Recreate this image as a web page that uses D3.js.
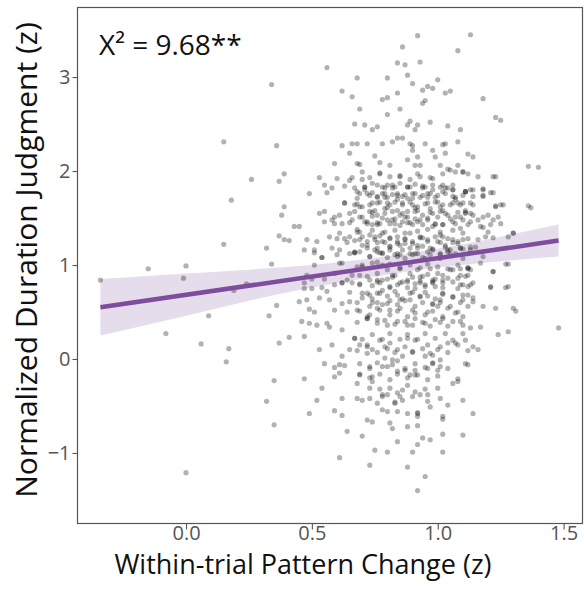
<!DOCTYPE html>
<html>
<head>
<meta charset="utf-8">
<script src="https://cdn.jsdelivr.net/npm/d3@7"></script>
<style>
  body { margin: 0; background: #fff; }
  svg text { font-family: "Open Sans", sans-serif; }
</style>
</head>
<body>
<div id="chart"></div>
<script>
// trial points [pattern change z, duration judgment z]
const points = [
  // upper cloud
  [0.92,3.44],[1.13,3.45],[0.86,3.32],[1.08,3.28],[0.56,3.10],[0.84,3.15],[0.87,3.13],[0.93,3.16],[0.88,3.02],
  [0.68,2.99],[0.80,2.99],[1.00,2.97],[0.62,2.85],[0.66,2.79],[0.78,2.76],[0.80,2.78],[0.84,2.83],[0.90,2.93],
  [0.94,2.86],[0.96,2.90],[0.98,2.88],[1.03,2.83],[1.05,2.85],[0.95,2.75],[0.94,2.72],[1.18,2.77],[0.69,2.66],
  [0.85,2.66],[0.80,2.60],[1.23,2.57],[1.25,2.54],[0.67,2.50],[0.71,2.49],[0.74,2.44],[0.76,2.47],[0.89,2.53],
  [0.88,2.49],[0.92,2.49],[0.91,2.44],[0.97,2.52],[1.04,2.48],[1.09,2.44],[0.84,2.35],[0.86,2.35],[0.82,2.31],
  [0.62,2.27],[0.66,2.29],[0.68,2.29],[0.72,2.29],[0.78,2.29],[0.89,2.29],[0.90,2.27],[0.95,2.29],[1.02,2.28],
  [1.03,2.29],[1.08,2.31],[0.65,2.19],[0.75,2.16],[0.90,2.22],[0.92,2.15],[0.98,2.22],[0.99,2.15],[1.03,2.19],
  [1.12,2.18],[1.14,2.15],[0.59,2.08],[0.68,2.08],[0.69,2.07],[0.77,2.09],[0.81,2.06],[0.88,2.12],[0.91,2.06],
  [0.93,2.06],[1.01,2.06],[1.08,2.06],[1.04,2.02],[1.10,1.99],[1.36,2.05],[1.40,2.04],
  [0.53,1.93],[0.60,1.92],[0.66,1.93],[0.70,1.91],[0.73,1.93],[0.77,1.97],[0.81,1.94],[0.85,1.95],[0.89,1.91],
  [0.93,1.94],[0.98,1.92],[1.02,1.97],[1.05,2.01],[1.12,1.97],[1.16,1.94],[1.23,1.94],[0.55,1.85],[0.58,1.82],
  [0.63,1.84],[0.67,1.82],[0.71,1.83],[0.74,1.87],[0.78,1.83],[0.80,1.85],[0.82,1.82],[0.85,1.87],[0.88,1.83],
  [0.91,1.86],[0.95,1.83],[0.98,1.85],[1.01,1.83],[1.04,1.82],[1.06,1.85],[1.11,1.78],[1.14,1.80],[1.18,1.80],
  [1.22,1.77],[0.49,1.76],[0.56,1.77],[0.69,1.76],[0.72,1.76],[0.76,1.73],[0.79,1.76],[0.84,1.76],[0.86,1.73],
  [0.90,1.76],[0.94,1.74],[0.97,1.76],[1.00,1.74],[1.03,1.76],[1.06,1.73],[1.10,1.74],[1.14,1.73],[1.18,1.74],
  [0.63,1.66],[0.67,1.64],[0.70,1.62],[0.74,1.66],[0.77,1.67],[0.80,1.66],[0.83,1.67],[0.86,1.64],[0.89,1.67],
  [0.92,1.62],[0.96,1.66],[0.99,1.67],[1.02,1.64],[1.06,1.66],[1.09,1.64],[1.13,1.66],[1.23,1.63],[1.25,1.64],
  [1.36,1.63],[1.37,1.61],[0.53,1.55],[0.55,1.57],[0.59,1.51],[0.61,1.53],[0.65,1.55],[0.69,1.51],[0.73,1.57],
  [0.76,1.53],[0.79,1.55],[0.82,1.57],[0.85,1.53],[0.88,1.51],[0.91,1.57],[0.94,1.53],[0.98,1.55],[1.01,1.57],
  [1.04,1.53],[1.07,1.51],[1.11,1.55],[1.14,1.53],[1.18,1.51],[1.22,1.48],[0.55,1.46],[0.59,1.44],[0.62,1.44],
  [0.66,1.48],[0.72,1.46],[0.74,1.43],[0.77,1.44],[0.80,1.48],[0.83,1.44],[0.86,1.46],[0.90,1.43],[0.92,1.46],
  [0.96,1.48],[0.99,1.44],[1.02,1.43],[1.06,1.46],[1.10,1.48],[1.13,1.46],[1.17,1.41],[1.21,1.43],[1.25,1.44],
  [0.48,1.27],[0.52,1.25],[0.57,1.30],[0.60,1.28],[0.63,1.28],[0.65,1.30],[0.69,1.27],[0.72,1.25],[0.75,1.30],
  [0.78,1.25],[0.81,1.28],[0.84,1.23],[0.87,1.27],[0.90,1.25],[0.93,1.30],[0.96,1.27],[1.00,1.25],[1.02,1.30],
  [1.06,1.27],[1.08,1.25],[1.12,1.28],[1.16,1.27],[1.19,1.30],[1.30,1.34],[0.47,1.16],[0.51,1.16],[0.54,1.08],
  [0.58,1.18],[0.61,1.16],[0.65,1.12],[0.69,1.14],[0.72,1.18],[0.75,1.16],[0.78,1.12],[0.81,1.16],[0.84,1.12],
  [0.86,1.16],[0.89,1.12],[0.92,1.18],[0.96,1.14],[0.98,1.16],[1.01,1.12],[1.04,1.16],[1.07,1.12],[1.10,1.17],
  [1.13,1.16],
  // core, second pass
  [0.70,1.99],[0.77,1.98],[0.85,1.94],[0.92,1.97],[0.97,1.93],[1.02,1.85],[0.65,1.90],[0.71,1.83],[0.76,1.85],
  [0.82,1.85],[0.88,1.83],[0.94,1.82],[0.63,1.66],[0.68,1.71],[0.73,1.74],[0.79,1.72],[0.84,1.74],[0.90,1.71],
  [0.96,1.72],[1.00,1.67],[0.69,1.62],[0.74,1.56],[0.80,1.61],[0.86,1.55],[0.91,1.61],[0.97,1.56],[1.03,1.55],
  [0.58,1.48],[0.65,1.45],[0.71,1.46],[0.76,1.45],[0.82,1.48],[0.88,1.45],[0.93,1.48],[0.99,1.43],[0.61,1.34],
  [0.68,1.35],[0.73,1.32],[0.78,1.34],[0.84,1.30],[0.89,1.34],[0.94,1.29],[1.01,1.32],[0.64,1.24],[0.70,1.21],
  [0.76,1.24],[0.81,1.20],[0.87,1.23],[0.92,1.21],[0.97,1.18],[1.03,1.21],[0.60,1.11],[0.67,1.13],[0.73,1.09],
  [0.78,1.13],[0.84,1.09],[0.90,1.11],[0.95,1.07],[1.01,1.11],[0.62,1.02],[0.68,0.98],[0.76,1.03],[0.76,0.84],
  [0.82,0.87],[0.88,0.84],[0.93,0.87],[0.98,0.82],[1.04,0.86],[0.62,0.81],[0.69,0.79],[0.65,0.71],[0.72,0.70],
  [0.78,0.73],[0.84,0.68],[0.90,0.71],[0.96,0.67],[1.02,0.70],
  [1.07,1.99],[1.10,1.99],[1.22,1.94],[1.06,1.80],[1.11,1.78],[1.13,1.80],[1.18,1.81],[1.21,1.77],[1.07,1.72],
  [1.18,1.73],[1.10,1.66],[1.14,1.64],[1.11,1.56],[1.23,1.62],[1.26,1.64],[1.08,1.56],[1.13,1.55],[1.16,1.48],
  [1.20,1.53],[1.24,1.51],[1.09,1.39],[1.12,1.43],[1.18,1.40],[1.20,1.35],[1.22,1.29],[1.28,1.30],[1.30,1.34],
  [1.10,1.27],[1.06,1.24],[1.05,1.16],[1.09,1.18],[1.13,1.19],[1.15,1.19],[1.10,1.07],[1.18,1.09],[1.22,0.93],
  [1.28,1.01],[1.06,0.95],[1.09,0.96],[1.12,0.97],[1.13,0.95],[1.08,0.86],[1.12,0.89],[1.10,0.79],[1.13,0.79],
  [1.21,0.77],[1.28,0.77],[1.10,0.68],[1.14,0.65],
  // core, third pass
  [0.79,1.82],[0.83,1.83],[0.89,1.83],[0.94,1.84],[0.98,1.80],[1.03,1.82],[1.06,1.80],[1.11,1.78],[1.02,1.78],
  [0.96,1.76],[0.91,1.76],[0.87,1.75],[0.82,1.75],[0.78,1.76],[0.74,1.77],[0.71,1.80],[0.68,1.78],[0.76,1.72],
  [0.80,1.72],[0.84,1.70],[0.88,1.71],[0.93,1.72],[0.99,1.72],[1.07,1.70],
  [1.08,1.66],[0.68,1.65],[0.73,1.64],[0.76,1.66],[0.81,1.64],[0.86,1.66],[0.90,1.64],[0.95,1.65],[1.01,1.62],
  [1.05,1.64],[0.75,1.58],[0.79,1.60],[0.84,1.58],[0.88,1.57],[0.92,1.58],[0.97,1.60],[1.02,1.58],[1.11,1.58],
  [0.67,1.57],
  [0.70,1.51],[0.74,1.52],[0.78,1.50],[0.83,1.49],[0.87,1.51],[0.91,1.49],[0.96,1.50],[1.00,1.51],[1.05,1.49],
  [1.09,1.51],[0.72,1.44],[0.76,1.43],[0.81,1.44],[0.85,1.42],[0.89,1.45],[0.94,1.43],[0.98,1.41],[1.02,1.43],
  [1.07,1.44],[0.68,1.38],[0.69,1.35],[0.74,1.37],[0.79,1.35],[0.83,1.37],[0.87,1.34],[0.92,1.36],[0.96,1.38],
  [1.01,1.35],[1.06,1.37],[1.10,1.34],
  [0.67,1.26],[0.70,1.30],[0.75,1.27],[0.77,1.31],[0.79,1.24],[0.81,1.29],[0.84,1.25],[0.87,1.28],[0.90,1.23],
  [0.93,1.29],[0.96,1.25],[0.99,1.30],[1.01,1.24],[1.04,1.28],[1.08,1.23],[0.72,1.21],[0.76,1.18],[0.81,1.19],
  [0.85,1.21],[0.89,1.18],[0.94,1.20],[0.98,1.17],[1.03,1.19],[1.09,1.18],
  [0.67,1.13],[0.73,1.09],[0.77,1.13],[0.80,1.08],[0.83,1.11],[0.87,1.07],[0.91,1.12],[0.94,1.08],[0.97,1.11],
  [1.01,1.07],[1.05,1.11],[0.70,0.98],[0.74,1.02],[0.78,1.00],[0.81,1.01],[0.85,0.97],[0.89,1.00],[0.93,0.97],
  [0.96,1.01],[1.00,0.98],[1.04,0.96],[1.08,1.00],[1.12,0.97],
  [0.69,0.89],[0.73,0.84],[0.76,0.91],[0.80,0.85],[0.83,0.89],[0.86,0.82],[0.90,0.87],[0.93,0.83],[0.96,0.90],
  [0.99,0.85],[1.02,0.89],[1.06,0.82],[1.11,0.88],[0.69,0.80],[0.74,0.78],[0.77,0.81],[0.81,0.76],[0.84,0.79],
  [0.88,0.76],[0.91,0.80],[0.95,0.77],[0.98,0.81],[1.02,0.76],[1.09,0.79],
  [0.70,0.70],[0.74,0.64],[0.77,0.70],[0.80,0.67],[0.83,0.72],[0.86,0.64],[0.89,0.70],[0.93,0.67],[0.95,0.71],
  [0.99,0.64],[1.02,0.69],[1.06,0.66],[1.12,0.68],[0.68,0.60],[0.73,0.56],[0.76,0.60],[0.81,0.62],[0.84,0.58],
  [0.87,0.62],[0.91,0.56],[0.94,0.60],[0.98,0.58],[1.01,0.60],[1.05,0.56],[1.09,0.60],
  [0.69,0.51],[0.73,0.47],[0.77,0.52],[0.81,0.47],[0.84,0.51],[0.88,0.45],[0.91,0.49],[0.95,0.47],[0.98,0.51],
  [1.02,0.45],[1.07,0.49],[1.10,0.45],[0.68,0.39],[0.72,0.43],[0.76,0.38],[0.79,0.41],[0.83,0.37],[0.87,0.40],
  [0.90,0.36],[0.94,0.39],[0.97,0.35],[1.01,0.39],[1.04,0.35],[1.09,0.40],
  [0.70,0.21],[0.74,0.26],[0.78,0.21],[0.81,0.27],[0.85,0.21],[0.88,0.26],[0.92,0.21],[0.95,0.27],[0.99,0.22],
  [1.03,0.27],[1.06,0.20],[1.10,0.27],[0.68,0.09],[0.72,0.13],[0.76,0.07],[0.80,0.11],[0.83,0.07],[0.87,0.13],
  [0.90,0.07],[0.94,0.11],[0.97,0.06],[1.01,0.13],[1.04,0.07],[1.08,0.15],[1.12,0.09],
  [0.69,-0.05],[0.73,-0.10],[0.76,-0.04],[0.80,-0.08],[0.84,-0.02],[0.87,-0.10],[0.91,-0.05],[0.95,-0.09],
  [0.98,-0.04],[1.01,-0.08],[1.11,-0.05],[0.91,-0.12],[0.69,-0.16],[0.73,-0.20],[0.77,-0.16],[0.81,-0.22],
  [0.84,-0.16],[0.88,-0.20],[0.92,-0.17],[0.96,-0.22],[1.00,-0.18],[1.08,-0.21],
  [0.77,-0.32],[0.86,-0.33],[0.95,-0.32],[0.78,-0.38],[0.85,-0.40],[0.93,-0.38],[1.01,-0.42],[0.76,-0.47],
  [0.83,-0.46],[0.92,-0.57],[0.97,-0.51],
  // lower cloud
  [0.51,1.13],[0.54,1.08],[0.67,1.14],[0.76,1.14],[0.85,1.11],[0.92,1.12],[1.04,1.14],[1.12,1.12],
  [0.51,1.00],[0.61,1.02],[0.70,1.00],[0.76,0.82],[0.80,0.95],[0.82,0.89],[0.85,0.96],[0.89,0.91],[0.92,0.95],
  [0.94,0.88],[0.97,0.96],[1.00,0.91],[1.02,0.84],[1.05,0.95],[1.09,0.89],[1.12,0.96],[1.17,1.02],[1.22,0.93],
  [1.27,1.01],[0.48,0.89],[0.55,0.85],[0.59,0.91],[0.64,0.84],[0.66,0.89],[0.72,0.88],[0.78,0.84],[0.88,0.82],
  [0.93,0.81],[0.98,0.84],[0.47,0.81],[0.50,0.85],
  [0.47,0.75],[0.50,0.75],[0.54,0.76],[0.56,0.72],[0.59,0.79],[0.62,0.81],[0.66,0.81],[0.73,0.68],[0.76,0.70],
  [0.81,0.77],[0.85,0.81],[0.91,0.75],[0.95,0.79],[0.99,0.77],[1.02,0.81],[1.08,0.75],[1.12,0.77],[1.14,0.81],
  [1.21,0.76],[1.27,0.76],[0.48,0.63],[0.53,0.65],[0.57,0.63],[0.62,0.59],[0.65,0.61],[0.70,0.65],[0.74,0.60],
  [0.78,0.58],[0.80,0.59],[0.85,0.63],[0.89,0.63],[0.93,0.66],[0.98,0.59],[1.01,0.63],[1.06,0.66],[1.10,0.63],
  [1.14,0.61],[1.18,0.56],[1.23,0.54],[1.30,0.54],[1.31,0.51],[0.49,0.53],[0.51,0.50],[0.59,0.52],[0.64,0.50],
  [0.68,0.52],[0.72,0.45],[0.76,0.54],[0.81,0.52],[0.85,0.54],[0.90,0.52],[0.96,0.50],[1.00,0.56],[1.04,0.54],
  [1.08,0.50],[1.12,0.56],[0.46,0.40],[0.49,0.38],[0.52,0.36],[0.56,0.38],[0.57,0.34],[0.62,0.31],[0.67,0.22],
  [0.72,0.43],[0.76,0.42],[0.80,0.36],[0.84,0.40],[0.88,0.36],[0.91,0.43],[0.95,0.38],[0.99,0.42],[1.02,0.43],
  [1.06,0.40],[1.10,0.36],[1.13,0.33],[1.17,0.34],[1.24,0.26],[1.28,0.29],[1.48,0.33],
  [0.47,0.24],[0.53,0.10],[0.58,0.15],[0.62,0.03],[0.67,0.22],[0.72,0.15],[0.74,0.10],[0.77,0.20],[0.79,0.13],
  [0.81,0.17],[0.84,0.10],[0.88,0.22],[0.91,0.20],[0.96,0.15],[1.00,0.10],[1.04,0.17],[1.07,0.17],[1.11,0.20],
  [1.14,0.13],[1.16,0.10],[0.65,0.10],[0.69,0.15],[0.72,0.06],[0.79,0.01],[0.82,-0.01],[0.86,0.03],[0.90,0.08],
  [0.95,0.03],[0.98,0.04],[1.01,-0.01],
  [0.55,-0.05],[0.59,-0.09],[0.61,-0.06],[0.63,-0.07],[0.59,-0.19],[0.61,-0.15],[0.69,-0.17],[0.73,-0.08],
  [0.74,-0.19],[0.78,-0.08],[0.82,-0.06],[0.84,-0.13],[0.87,-0.12],[0.89,-0.17],[0.91,-0.17],[0.96,-0.10],
  [0.98,-0.05],[1.00,-0.12],[1.04,-0.10],[1.08,-0.24],[1.12,-0.06],[0.47,-0.21],[0.74,-0.24],[0.68,-0.26],
  [0.73,-0.31],[0.81,-0.31],[0.84,-0.36],[0.88,-0.28],[0.91,-0.35],[0.96,-0.38],[1.00,-0.31],[1.06,-0.26],
  [0.54,-0.31],[0.52,-0.44],[0.62,-0.42],[0.68,-0.42],[0.70,-0.44],[0.73,-0.42],[0.78,-0.40],[0.80,-0.38],
  [0.83,-0.47],[0.86,-0.44],[0.90,-0.40],[0.96,-0.45],[1.04,-0.49],[1.10,-0.44],[0.49,-0.58],[0.59,-0.55],
  [0.62,-0.60],[0.78,-0.54],[0.80,-0.56],[0.84,-0.56],[0.88,-0.58],[0.92,-0.58],[0.92,-0.61],[1.02,-0.61],
  [1.02,-0.64],[1.14,-0.58],[0.72,-0.65],[0.74,-0.67],[0.81,-0.68],[0.82,-0.74],[0.64,-0.77],[0.70,-0.82],
  [0.88,-0.72],[0.92,-0.71],[0.94,-0.84],[0.97,-0.86],[1.02,-0.80],[1.10,-0.81],[0.84,-0.88],[0.92,-0.91],
  [0.75,-0.97],[0.80,-0.99],[0.90,-0.99],[1.02,-0.99],[0.61,-1.05],[0.73,-1.13],[0.88,-1.15],[0.95,-1.25],
  [0.92,-1.40],
  // left side
  [0.34,2.92],[0.15,2.31],[0.36,2.27],[0.26,1.91],[0.39,1.97],[0.37,1.89],[0.18,1.69],[0.39,1.62],[0.38,1.53],
  [0.43,1.41],[0.45,1.41],[0.15,1.22],[0.37,1.31],[0.39,1.27],[0.41,1.26],[0.32,1.18],
  [-0.34,0.84],[-0.15,0.96],[0.00,0.99],[-0.01,0.86],[0.34,1.01],[0.24,0.80],[0.19,0.73],[0.09,0.46],
  [-0.08,0.27],[0.06,0.16],[0.17,0.11],[0.16,-0.03],[0.00,-1.21],[0.33,0.46],[0.36,0.57],[0.37,0.17],
  [0.41,0.23],[0.45,0.61],[0.35,-0.23],[0.32,-0.45],[0.35,-0.70]
];

// fitted line and its confidence band
const fitX = [-0.34, 1.48];
const fitY = [0.55, 1.26];
const bandX = [-0.34, 0.0, 0.25, 0.5, 0.75, 0.9, 1.1, 1.3, 1.48];
const bandLo = [0.25, 0.46, 0.62, 0.76, 0.875, 0.94, 1.0, 1.05, 1.09];
const bandHi = [0.85, 0.91, 0.95, 1.00, 1.075, 1.13, 1.22, 1.33, 1.43];

const xTicks = [0, 0.5, 1.0, 1.5];
const yTicks = [-1, 0, 1, 2, 3];
const statLabel = "X² = 9.68**";

const width = 584;
const height = 602;
const panel = { left: 77, right: 583, top: 7, bottom: 523 };

const svg = d3.select("#chart")
  .append("svg")
  .attr("width", width)
  .attr("height", height);

const x = d3.scaleLinear().domain([-0.433, 1.577]).range([panel.left, panel.right]);
const y = d3.scaleLinear().domain([-1.745, 3.745]).range([panel.bottom, panel.top]);

// band
const band = bandX.map((v, i) => ({ x: v, lo: bandLo[i], hi: bandHi[i] }));
svg.append("path")
  .datum(band)
  .attr("fill", "#7f4f9f")
  .attr("fill-opacity", 0.2)
  .attr("d", d3.area().x(d => x(d.x)).y0(d => y(d.lo)).y1(d => y(d.hi)).curve(d3.curveMonotoneX));

// points
svg.append("g")
  .selectAll("circle")
  .data(points)
  .join("circle")
  .attr("cx", d => x(d[0]))
  .attr("cy", d => y(d[1]))
  .attr("r", 2.6)
  .attr("fill", "#000")
  .attr("fill-opacity", 0.3);

// fit line
svg.append("path")
  .datum(fitX.map((v, i) => [v, fitY[i]]))
  .attr("fill", "none")
  .attr("stroke", "#7f4c9e")
  .attr("stroke-width", 4.5)
  .attr("d", d3.line().x(d => x(d[0])).y(d => y(d[1])));

// panel border
svg.append("rect")
  .attr("x", panel.left + 0.5)
  .attr("y", panel.top + 0.5)
  .attr("width", panel.right - panel.left - 1)
  .attr("height", panel.bottom - panel.top)
  .attr("fill", "none")
  .attr("stroke", "#555")
  .attr("stroke-width", 1.2);

// axes
const xAxis = svg.append("g")
  .attr("transform", `translate(0,${panel.bottom + 0.5})`)
  .call(d3.axisBottom(x).tickValues(xTicks).tickFormat(d3.format(".1f")).tickSize(6).tickPadding(-4));
const yAxis = svg.append("g")
  .attr("transform", `translate(${panel.left + 0.5},0)`)
  .call(d3.axisLeft(y).tickValues(yTicks).tickFormat(d => d < 0 ? "\u2212" + Math.abs(d) : d).tickSize(5).tickPadding(2));

[xAxis, yAxis].forEach(g => {
  g.select(".domain").remove();
  g.selectAll(".tick line").attr("stroke", "#555").attr("stroke-width", 1.1);
  g.selectAll(".tick text")
    .attr("fill", "#555")
    .style("font-size", "20px");
});

// titles
svg.append("text")
  .attr("x", 303)
  .attr("y", 574)
  .attr("text-anchor", "middle")
  .style("font-size", "27px")
  .attr("fill", "#111")
  .text("Within-trial Pattern Change (z)");

svg.append("text")
  .attr("transform", "translate(37,260) rotate(-90)")
  .attr("text-anchor", "middle")
  .style("font-size", "30px")
  .attr("fill", "#111")
  .text("Normalized Duration Judgment (z)");

svg.append("text")
  .attr("x", 99)
  .attr("y", 55)
  .style("font-size", "28px")
  .attr("fill", "#111")
  .text(statLabel);
</script>
</body>
</html>
